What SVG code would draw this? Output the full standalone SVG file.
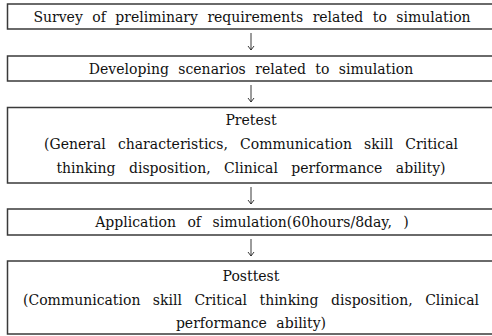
<svg xmlns="http://www.w3.org/2000/svg" width="492" height="336" viewBox="0 0 492 336">
<defs>
<style>
.box{fill:none;stroke:#3a3a3a;stroke-width:1.5}
.t{font-family:"DejaVu Serif","Liberation Serif",serif;font-size:14px;fill:#111;text-anchor:middle;word-spacing:5px}
.con{stroke:#222;stroke-width:0.9;fill:none}
</style>
<marker id="ah" markerWidth="8" markerHeight="8" refX="7" refY="4" orient="auto" markerUnits="userSpaceOnUse" viewBox="0 0 8 8">
<path d="M3,1 L7,4 L3,7" fill="none" stroke="#222" stroke-width="0.9"/>
</marker>
</defs>
<rect width="492" height="336" fill="#fff"/>
<g id="connectors">
<line class="con" x1="251" y1="33" x2="251" y2="50" marker-end="url(#ah)"/>
<line class="con" x1="251" y1="85" x2="251" y2="102" marker-end="url(#ah)"/>
<line class="con" x1="251" y1="187" x2="251" y2="204" marker-end="url(#ah)"/>
<line class="con" x1="251" y1="239" x2="251" y2="256" marker-end="url(#ah)"/>
</g>
<g id="n1">
<path class="box" d="M493,4 H7.5 V29 H493"/>
<text class="t" x="252" y="22">Survey of preliminary requirements related to simulation</text>
</g>
<g id="n2">
<path class="box" d="M493,56 H7.5 V81 H493"/>
<text class="t" x="251" y="74">Developing scenarios related to simulation</text>
</g>
<g id="n3">
<path class="box" d="M493,107.5 H7.5 V183 H493"/>
<text class="t" x="251" y="125">Pretest</text>
<text class="t" x="251" y="149" style="word-spacing:7.7px">(General characteristics, Communication skill Critical</text>
<text class="t" x="251" y="173" style="word-spacing:9px">thinking disposition, Clinical performance ability)</text>
</g>
<g id="n4">
<path class="box" d="M493,209 H7.5 V235 H493"/>
<text class="t" x="252" y="227" style="word-spacing:7px">Application of simulation(60hours/8day, )</text>
</g>
<g id="n5">
<path class="box" d="M493,261 H7.5 V334 H493"/>
<text class="t" x="251" y="281">Posttest</text>
<text class="t" x="251" y="305" style="word-spacing:8px">(Communication skill Critical thinking disposition, Clinical</text>
<text class="t" x="251" y="328">performance ability)</text>
</g>
</svg>
